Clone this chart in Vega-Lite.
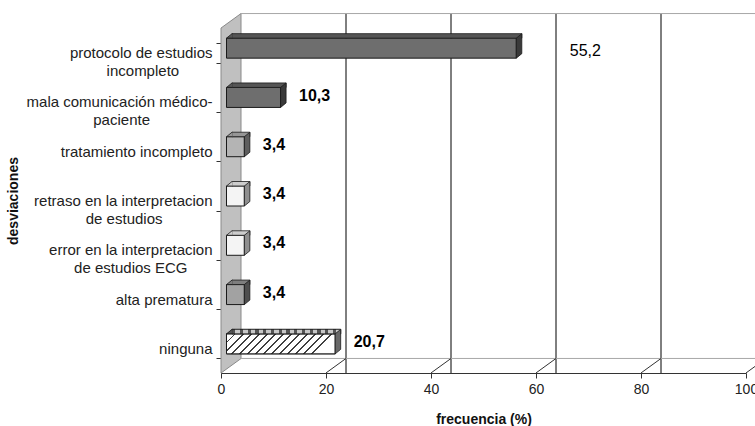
{
  "$schema": "https://vega.github.io/schema/vega-lite/v6.json",
  "width": 525,
  "height": 345,
  "autosize": "none",
  "padding": {"left": 221, "top": 28, "right": 9, "bottom": 53},
  "background": "white",
  "config": {
    "view": {"stroke": null},
    "font": "Liberation Sans",
    "axis": {"labelFont": "Liberation Sans", "titleFont": "Liberation Sans"}
  },
  "datasets": {
    "bars": [
      {"cat": "protocolo de estudios|incompleto", "v": 55.2, "lab": "55,2"},
      {"cat": "mala comunicación médico-|paciente", "v": 10.3, "lab": "10,3"},
      {"cat": "tratamiento incompleto", "v": 3.4, "lab": "3,4"},
      {"cat": "retraso en la interpretacion|de estudios", "v": 3.4, "lab": "3,4"},
      {"cat": "error en la interpretacion|de estudios ECG", "v": 3.4, "lab": "3,4"},
      {"cat": "alta prematura", "v": 3.4, "lab": "3,4"},
      {"cat": "ninguna", "v": 20.7, "lab": "20,7"}
    ],
    "grid": [{"v": 20}, {"v": 40}, {"v": 60}, {"v": 80}, {"v": 100}],
    "origin": [{"v": 0, "v2": 100}]
  },
  "resolve": {"scale": {"color": "independent"}},
  "layer": [
    {
      "data": {"name": "origin"},
      "mark": {"type": "point", "shape": "M0,-24.6 L20,-39.1 L20,305.9 L0,320.4 Z", "size": 4, "filled": true, "fill": "#c0c0c0", "stroke": "#8a8a8a", "strokeWidth": 1, "opacity": 1},
      "encoding": {
        "x": {"field": "v", "type": "quantitative", "scale": {"domain": [0, 100], "nice": false}},
        "y": {"datum": "protocolo de estudios|incompleto", "type": "nominal", "scale": {"domain": ["protocolo de estudios|incompleto", "mala comunicación médico-|paciente", "tratamiento incompleto", "retraso en la interpretacion|de estudios", "error en la interpretacion|de estudios ECG", "alta prematura", "ninguna"], "paddingInner": 0.5942, "paddingOuter": 0.2971}}
      }
    },
    {
      "data": {"name": "grid"},
      "mark": {"type": "rule", "color": "#000000", "strokeWidth": 1, "yOffset": -14.5, "y2Offset": -14.5, "xOffset": 20, "opacity": 1},
      "encoding": {
        "x": {"field": "v", "type": "quantitative", "scale": {"domain": [0, 100], "nice": false}}
      }
    },
    {
      "data": {"name": "origin"},
      "mark": {"type": "rule", "color": "#a8a8a8", "strokeWidth": 1, "yOffset": -39.1, "xOffset": 20, "x2Offset": 20, "opacity": 1},
      "encoding": {
        "x": {"field": "v", "type": "quantitative", "scale": {"domain": [0, 100], "nice": false}},
        "x2": {"field": "v2"},
        "y": {"datum": "protocolo de estudios|incompleto", "type": "nominal"}
      }
    },
    {
      "data": {"name": "origin"},
      "mark": {"type": "rule", "color": "#a8a8a8", "strokeWidth": 1, "yOffset": 10.1, "xOffset": 20, "x2Offset": 20, "opacity": 1},
      "encoding": {
        "x": {"field": "v", "type": "quantitative", "scale": {"domain": [0, 100], "nice": false}},
        "x2": {"field": "v2"},
        "y": {"datum": "ninguna", "type": "nominal"}
      }
    },
    {
      "data": {"name": "grid"},
      "mark": {"type": "point", "shape": "M0,24.6 L20,10.1", "size": 4, "filled": false, "stroke": "#333333", "strokeWidth": 1, "opacity": 1},
      "encoding": {
        "x": {"field": "v", "type": "quantitative", "scale": {"domain": [0, 100], "nice": false}},
        "y": {"datum": "ninguna", "type": "nominal"}
      }
    },
    {
      "data": {"name": "bars"},
      "mark": {"type": "bar", "xOffset": 5.5, "x2Offset": 5.5, "yOffset": -4.5, "stroke": "#1a1a1a", "strokeWidth": 1, "opacity": 1},
      "encoding": {
        "x": {"field": "v", "type": "quantitative", "scale": {"domain": [0, 100], "nice": false},
          "axis": {"values": [0, 20, 40, 60, 80, 100], "grid": false, "labelFlush": false, "domainColor": "#333333", "tickColor": "#333333", "tickSize": 5, "labelFontSize": 14, "labelColor": "#222222", "labelPadding": 4, "title": "frecuencia (%)", "titleFontSize": 14, "titleFontWeight": "bold", "titleColor": "#111111", "titlePadding": 16}},
        "y": {"field": "cat", "type": "nominal", "scale": {"domain": ["protocolo de estudios|incompleto", "mala comunicación médico-|paciente", "tratamiento incompleto", "retraso en la interpretacion|de estudios", "error en la interpretacion|de estudios ECG", "alta prematura", "ninguna"], "paddingInner": 0.5942, "paddingOuter": 0.2971},
          "axis": {"tickBand": "extent", "labelExpr": "split(datum.label, '|').length > 1 ? [split(datum.label, '|')[0], split(datum.label, '|')[1] + pad('', datum.label == 'protocolo de estudios|incompleto' ? 8 : datum.label == 'mala comunicación médico-|paciente' ? 15 : datum.label == 'retraso en la interpretacion|de estudios' ? 12 : 6, '\u00a0') + '\u200b'] : datum.label", "labelLimit": 300, "labelFontSize": 15, "labelLineHeight": 18, "labelColor": "#222222", "labelPadding": 4, "tickSize": 5, "domainColor": "#333333", "tickColor": "#333333", "title": "desviaciones", "titleFontSize": 14, "titleFontWeight": "bold", "titleColor": "#111111", "titlePadding": 6}},
        "color": {"field": "cat", "type": "nominal", "legend": null, "scale": {"domain": ["protocolo de estudios|incompleto", "mala comunicación médico-|paciente", "tratamiento incompleto", "retraso en la interpretacion|de estudios", "error en la interpretacion|de estudios ECG", "alta prematura", "ninguna"], "range": ["#6e6e6e", "#6e6e6e", "#b4b4b4", "#f4f4f4", "#f4f4f4", "#a2a2a2", "#ffffff"]}}
      }
    },
    {
      "data": {"name": "bars"},
      "transform": [{"filter": "datum.cat == 'ninguna'"}],
      "mark": {"type": "bar", "xOffset": 5.5, "x2Offset": 5.5, "yOffset": -4.5, "stroke": "#1a1a1a", "strokeWidth": 1, "opacity": 1,
        "fill": {"gradient": "linear", "x1": 0, "y1": 0, "x2": 1, "y2": 0.184, "stops": [
          {"offset": 0, "color": "#404040"}, {"offset": 0.0143, "color": "#404040"}, {"offset": 0.0143, "color": "#ffffff"}, {"offset": 0.0714, "color": "#ffffff"},
          {"offset": 0.0714, "color": "#404040"}, {"offset": 0.0857, "color": "#404040"}, {"offset": 0.0857, "color": "#ffffff"}, {"offset": 0.1429, "color": "#ffffff"},
          {"offset": 0.1429, "color": "#404040"}, {"offset": 0.1571, "color": "#404040"}, {"offset": 0.1571, "color": "#ffffff"}, {"offset": 0.2143, "color": "#ffffff"},
          {"offset": 0.2143, "color": "#404040"}, {"offset": 0.2286, "color": "#404040"}, {"offset": 0.2286, "color": "#ffffff"}, {"offset": 0.2857, "color": "#ffffff"},
          {"offset": 0.2857, "color": "#404040"}, {"offset": 0.3, "color": "#404040"}, {"offset": 0.3, "color": "#ffffff"}, {"offset": 0.3571, "color": "#ffffff"},
          {"offset": 0.3571, "color": "#404040"}, {"offset": 0.3714, "color": "#404040"}, {"offset": 0.3714, "color": "#ffffff"}, {"offset": 0.4286, "color": "#ffffff"},
          {"offset": 0.4286, "color": "#404040"}, {"offset": 0.4429, "color": "#404040"}, {"offset": 0.4429, "color": "#ffffff"}, {"offset": 0.5, "color": "#ffffff"},
          {"offset": 0.5, "color": "#404040"}, {"offset": 0.5143, "color": "#404040"}, {"offset": 0.5143, "color": "#ffffff"}, {"offset": 0.5714, "color": "#ffffff"},
          {"offset": 0.5714, "color": "#404040"}, {"offset": 0.5857, "color": "#404040"}, {"offset": 0.5857, "color": "#ffffff"}, {"offset": 0.6429, "color": "#ffffff"},
          {"offset": 0.6429, "color": "#404040"}, {"offset": 0.6571, "color": "#404040"}, {"offset": 0.6571, "color": "#ffffff"}, {"offset": 0.7143, "color": "#ffffff"},
          {"offset": 0.7143, "color": "#404040"}, {"offset": 0.7286, "color": "#404040"}, {"offset": 0.7286, "color": "#ffffff"}, {"offset": 0.7857, "color": "#ffffff"},
          {"offset": 0.7857, "color": "#404040"}, {"offset": 0.8, "color": "#404040"}, {"offset": 0.8, "color": "#ffffff"}, {"offset": 0.8571, "color": "#ffffff"},
          {"offset": 0.8571, "color": "#404040"}, {"offset": 0.8714, "color": "#404040"}, {"offset": 0.8714, "color": "#ffffff"}, {"offset": 0.9286, "color": "#ffffff"},
          {"offset": 0.9286, "color": "#404040"}, {"offset": 0.9429, "color": "#404040"}, {"offset": 0.9429, "color": "#ffffff"}, {"offset": 1, "color": "#ffffff"}
        ]}},
      "encoding": {
        "x": {"field": "v", "type": "quantitative", "scale": {"domain": [0, 100], "nice": false}},
        "y": {"field": "cat", "type": "nominal"}
      }
    },
    {
      "data": {"name": "bars"},
      "mark": {"type": "bar", "height": 4.5, "xOffset": 11, "x2Offset": 11, "yOffset": -16.75, "stroke": "#1a1a1a", "strokeWidth": 0.8, "opacity": 1},
      "encoding": {
        "x": {"field": "v", "type": "quantitative", "scale": {"domain": [0, 100], "nice": false}},
        "y": {"field": "cat", "type": "nominal"},
        "color": {"field": "cat", "type": "nominal", "legend": null, "scale": {"domain": ["protocolo de estudios|incompleto", "mala comunicación médico-|paciente", "tratamiento incompleto", "retraso en la interpretacion|de estudios", "error en la interpretacion|de estudios ECG", "alta prematura", "ninguna"], "range": ["#555555", "#555555", "#969696", "#cdcdcd", "#cdcdcd", "#7e7e7e", "#a4a4a4"]}}
      }
    },
    {
      "data": {"name": "bars"},
      "transform": [{"filter": "datum.cat == 'ninguna'"}],
      "mark": {"type": "bar", "height": 4.5, "xOffset": 11, "x2Offset": 11, "yOffset": -16.75, "stroke": "#1a1a1a", "strokeWidth": 0.8, "opacity": 1,
        "fill": {"gradient": "linear", "x1": 0, "y1": 0, "x2": 1, "y2": 0, "stops": [
          {"offset": 0, "color": "#555555"}, {"offset": 0.03, "color": "#555555"}, {"offset": 0.03, "color": "#c8c8c8"}, {"offset": 0.0714, "color": "#c8c8c8"},
          {"offset": 0.0714, "color": "#555555"}, {"offset": 0.1014, "color": "#555555"}, {"offset": 0.1014, "color": "#c8c8c8"}, {"offset": 0.1429, "color": "#c8c8c8"},
          {"offset": 0.1429, "color": "#555555"}, {"offset": 0.1729, "color": "#555555"}, {"offset": 0.1729, "color": "#c8c8c8"}, {"offset": 0.2143, "color": "#c8c8c8"},
          {"offset": 0.2143, "color": "#555555"}, {"offset": 0.2443, "color": "#555555"}, {"offset": 0.2443, "color": "#c8c8c8"}, {"offset": 0.2857, "color": "#c8c8c8"},
          {"offset": 0.2857, "color": "#555555"}, {"offset": 0.3157, "color": "#555555"}, {"offset": 0.3157, "color": "#c8c8c8"}, {"offset": 0.3571, "color": "#c8c8c8"},
          {"offset": 0.3571, "color": "#555555"}, {"offset": 0.3871, "color": "#555555"}, {"offset": 0.3871, "color": "#c8c8c8"}, {"offset": 0.4286, "color": "#c8c8c8"},
          {"offset": 0.4286, "color": "#555555"}, {"offset": 0.4586, "color": "#555555"}, {"offset": 0.4586, "color": "#c8c8c8"}, {"offset": 0.5, "color": "#c8c8c8"},
          {"offset": 0.5, "color": "#555555"}, {"offset": 0.53, "color": "#555555"}, {"offset": 0.53, "color": "#c8c8c8"}, {"offset": 0.5714, "color": "#c8c8c8"},
          {"offset": 0.5714, "color": "#555555"}, {"offset": 0.6014, "color": "#555555"}, {"offset": 0.6014, "color": "#c8c8c8"}, {"offset": 0.6429, "color": "#c8c8c8"},
          {"offset": 0.6429, "color": "#555555"}, {"offset": 0.6729, "color": "#555555"}, {"offset": 0.6729, "color": "#c8c8c8"}, {"offset": 0.7143, "color": "#c8c8c8"},
          {"offset": 0.7143, "color": "#555555"}, {"offset": 0.7443, "color": "#555555"}, {"offset": 0.7443, "color": "#c8c8c8"}, {"offset": 0.7857, "color": "#c8c8c8"},
          {"offset": 0.7857, "color": "#555555"}, {"offset": 0.8157, "color": "#555555"}, {"offset": 0.8157, "color": "#c8c8c8"}, {"offset": 0.8571, "color": "#c8c8c8"},
          {"offset": 0.8571, "color": "#555555"}, {"offset": 0.8871, "color": "#555555"}, {"offset": 0.8871, "color": "#c8c8c8"}, {"offset": 0.9286, "color": "#c8c8c8"},
          {"offset": 0.9286, "color": "#555555"}, {"offset": 0.9586, "color": "#555555"}, {"offset": 0.9586, "color": "#c8c8c8"}, {"offset": 1, "color": "#c8c8c8"}
        ]}},
      "encoding": {
        "x": {"field": "v", "type": "quantitative", "scale": {"domain": [0, 100], "nice": false}},
        "y": {"field": "cat", "type": "nominal"}
      }
    },
    {
      "data": {"name": "bars"},
      "mark": {"type": "point", "shape": "M11.5,-14.5 L5.5,-14.5 L11,-19 L11.5,-19", "size": 4, "filled": true, "stroke": "#1a1a1a", "strokeWidth": 0.8, "opacity": 1},
      "encoding": {
        "x": {"datum": 0, "type": "quantitative", "scale": {"domain": [0, 100], "nice": false}},
        "y": {"field": "cat", "type": "nominal"},
        "color": {"field": "cat", "type": "nominal", "legend": null, "scale": {"domain": ["protocolo de estudios|incompleto", "mala comunicación médico-|paciente", "tratamiento incompleto", "retraso en la interpretacion|de estudios", "error en la interpretacion|de estudios ECG", "alta prematura", "ninguna"], "range": ["#555555", "#555555", "#969696", "#cdcdcd", "#cdcdcd", "#7e7e7e", "#555555"]}}
      }
    },
    {
      "data": {"name": "bars"},
      "mark": {"type": "point", "shape": "M5.5,-14.5 L11,-19 L11,1 L5.5,5.5 Z", "size": 4, "filled": true, "stroke": "#1a1a1a", "strokeWidth": 0.8, "opacity": 1},
      "encoding": {
        "x": {"field": "v", "type": "quantitative", "scale": {"domain": [0, 100], "nice": false}},
        "y": {"field": "cat", "type": "nominal"},
        "color": {"field": "cat", "type": "nominal", "legend": null, "scale": {"domain": ["protocolo de estudios|incompleto", "mala comunicación médico-|paciente", "tratamiento incompleto", "retraso en la interpretacion|de estudios", "error en la interpretacion|de estudios ECG", "alta prematura", "ninguna"], "range": ["#3a3a3a", "#3a3a3a", "#5e5e5e", "#8e8e8e", "#8e8e8e", "#4e4e4e", "#686868"]}}
      }
    },
    {
      "data": {"name": "bars"},
      "transform": [{"filter": "datum.v < 50"}],
      "mark": {"type": "text", "align": "left", "baseline": "alphabetic", "dx": 24, "dy": -1.3, "fontSize": 16, "fontWeight": "bold", "font": "Liberation Sans", "color": "#000000"},
      "encoding": {
        "x": {"field": "v", "type": "quantitative", "scale": {"domain": [0, 100], "nice": false}},
        "y": {"field": "cat", "type": "nominal"},
        "text": {"field": "lab"}
      }
    },
    {
      "data": {"name": "bars"},
      "transform": [{"filter": "datum.v >= 50"}],
      "mark": {"type": "text", "align": "left", "baseline": "alphabetic", "dx": 59, "dy": 3.4, "fontSize": 16, "fontWeight": "normal", "font": "Liberation Sans", "color": "#000000"},
      "encoding": {
        "x": {"field": "v", "type": "quantitative", "scale": {"domain": [0, 100], "nice": false}},
        "y": {"field": "cat", "type": "nominal"},
        "text": {"field": "lab"}
      }
    }
  ]
}
